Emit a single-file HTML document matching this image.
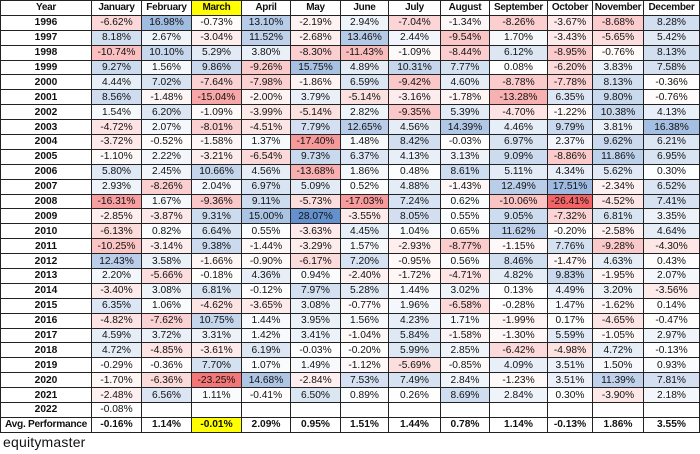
<!DOCTYPE html>
<html><head><meta charset="utf-8">
<style>
body{margin:0;background:#fff;width:700px;height:454px;overflow:hidden;font-family:"Liberation Sans",Arial,sans-serif;}
table{position:absolute;left:0;top:0;border-collapse:collapse;table-layout:fixed;width:699px;}
td{border:1px solid #222;height:13.9px;padding:0;text-align:center;font-size:10.2px;line-height:13px;color:#111;white-space:nowrap;overflow:hidden;}
tr.h td{font-weight:bold;font-size:10px;letter-spacing:-0.3px;}
td.y{font-weight:bold;}
tr.avg td{font-weight:bold;}
tr.avg td:first-child{letter-spacing:-0.3px;}
.yel{background:#ffff00 !important;}
#ft{position:absolute;left:3px;top:434px;font-size:14px;color:#111;letter-spacing:0.2px;}
</style></head><body>
<table id="t">
<colgroup><col style="width:91px"><col style="width:50px"><col style="width:50px"><col style="width:50px"><col style="width:49px"><col style="width:50px"><col style="width:48px"><col style="width:52px"><col style="width:49px"><col style="width:58px"><col style="width:45px"><col style="width:51px"><col style="width:56px"></colgroup>
<tr class="h"><td>Year</td><td>January</td><td>February</td><td class="yel">March</td><td>April</td><td>May</td><td>June</td><td>July</td><td>August</td><td>September</td><td>October</td><td>November</td><td>December</td></tr>
<tr><td class="y">1996</td><td>-6.62%</td><td>16.98%</td><td>-0.73%</td><td>13.10%</td><td>-2.19%</td><td>2.94%</td><td>-7.04%</td><td>-1.34%</td><td>-8.26%</td><td>-3.67%</td><td>-8.68%</td><td>8.28%</td></tr>
<tr><td class="y">1997</td><td>8.18%</td><td>2.67%</td><td>-3.04%</td><td>11.52%</td><td>-2.68%</td><td>13.46%</td><td>2.44%</td><td>-9.54%</td><td>1.70%</td><td>-3.43%</td><td>-5.65%</td><td>5.42%</td></tr>
<tr><td class="y">1998</td><td>-10.74%</td><td>10.10%</td><td>5.29%</td><td>3.80%</td><td>-8.30%</td><td>-11.43%</td><td>-1.09%</td><td>-8.44%</td><td>6.12%</td><td>-8.95%</td><td>-0.76%</td><td>8.13%</td></tr>
<tr><td class="y">1999</td><td>9.27%</td><td>1.56%</td><td>9.86%</td><td>-9.26%</td><td>15.75%</td><td>4.89%</td><td>10.31%</td><td>7.77%</td><td>0.08%</td><td>-6.20%</td><td>3.83%</td><td>7.58%</td></tr>
<tr><td class="y">2000</td><td>4.44%</td><td>7.02%</td><td>-7.64%</td><td>-7.98%</td><td>-1.86%</td><td>6.59%</td><td>-9.42%</td><td>4.60%</td><td>-8.78%</td><td>-7.78%</td><td>8.13%</td><td>-0.36%</td></tr>
<tr><td class="y">2001</td><td>8.56%</td><td>-1.48%</td><td>-15.04%</td><td>-2.00%</td><td>3.79%</td><td>-5.14%</td><td>-3.16%</td><td>-1.78%</td><td>-13.28%</td><td>6.35%</td><td>9.80%</td><td>-0.76%</td></tr>
<tr><td class="y">2002</td><td>1.54%</td><td>6.20%</td><td>-1.09%</td><td>-3.99%</td><td>-5.14%</td><td>2.82%</td><td>-9.35%</td><td>5.39%</td><td>-4.70%</td><td>-1.22%</td><td>10.38%</td><td>4.13%</td></tr>
<tr><td class="y">2003</td><td>-4.72%</td><td>2.07%</td><td>-8.01%</td><td>-4.51%</td><td>7.79%</td><td>12.65%</td><td>4.56%</td><td>14.39%</td><td>4.46%</td><td>9.79%</td><td>3.81%</td><td>16.38%</td></tr>
<tr><td class="y">2004</td><td>-3.72%</td><td>-0.52%</td><td>-1.58%</td><td>1.37%</td><td>-17.40%</td><td>1.48%</td><td>8.42%</td><td>-0.03%</td><td>6.97%</td><td>2.37%</td><td>9.62%</td><td>6.21%</td></tr>
<tr><td class="y">2005</td><td>-1.10%</td><td>2.22%</td><td>-3.21%</td><td>-6.54%</td><td>9.73%</td><td>6.37%</td><td>4.13%</td><td>3.13%</td><td>9.09%</td><td>-8.86%</td><td>11.86%</td><td>6.95%</td></tr>
<tr><td class="y">2006</td><td>5.80%</td><td>2.45%</td><td>10.66%</td><td>4.56%</td><td>-13.68%</td><td>1.86%</td><td>0.48%</td><td>8.61%</td><td>5.11%</td><td>4.34%</td><td>5.62%</td><td>0.30%</td></tr>
<tr><td class="y">2007</td><td>2.93%</td><td>-8.26%</td><td>2.04%</td><td>6.97%</td><td>5.09%</td><td>0.52%</td><td>4.88%</td><td>-1.43%</td><td>12.49%</td><td>17.51%</td><td>-2.34%</td><td>6.52%</td></tr>
<tr><td class="y">2008</td><td>-16.31%</td><td>1.67%</td><td>-9.36%</td><td>9.11%</td><td>-5.73%</td><td>-17.03%</td><td>7.24%</td><td>0.62%</td><td>-10.06%</td><td>-26.41%</td><td>-4.52%</td><td>7.41%</td></tr>
<tr><td class="y">2009</td><td>-2.85%</td><td>-3.87%</td><td>9.31%</td><td>15.00%</td><td>28.07%</td><td>-3.55%</td><td>8.05%</td><td>0.55%</td><td>9.05%</td><td>-7.32%</td><td>6.81%</td><td>3.35%</td></tr>
<tr><td class="y">2010</td><td>-6.13%</td><td>0.82%</td><td>6.64%</td><td>0.55%</td><td>-3.63%</td><td>4.45%</td><td>1.04%</td><td>0.65%</td><td>11.62%</td><td>-0.20%</td><td>-2.58%</td><td>4.64%</td></tr>
<tr><td class="y">2011</td><td>-10.25%</td><td>-3.14%</td><td>9.38%</td><td>-1.44%</td><td>-3.29%</td><td>1.57%</td><td>-2.93%</td><td>-8.77%</td><td>-1.15%</td><td>7.76%</td><td>-9.28%</td><td>-4.30%</td></tr>
<tr><td class="y">2012</td><td>12.43%</td><td>3.58%</td><td>-1.66%</td><td>-0.90%</td><td>-6.17%</td><td>7.20%</td><td>-0.95%</td><td>0.56%</td><td>8.46%</td><td>-1.47%</td><td>4.63%</td><td>0.43%</td></tr>
<tr><td class="y">2013</td><td>2.20%</td><td>-5.66%</td><td>-0.18%</td><td>4.36%</td><td>0.94%</td><td>-2.40%</td><td>-1.72%</td><td>-4.71%</td><td>4.82%</td><td>9.83%</td><td>-1.95%</td><td>2.07%</td></tr>
<tr><td class="y">2014</td><td>-3.40%</td><td>3.08%</td><td>6.81%</td><td>-0.12%</td><td>7.97%</td><td>5.28%</td><td>1.44%</td><td>3.02%</td><td>0.13%</td><td>4.49%</td><td>3.20%</td><td>-3.56%</td></tr>
<tr><td class="y">2015</td><td>6.35%</td><td>1.06%</td><td>-4.62%</td><td>-3.65%</td><td>3.08%</td><td>-0.77%</td><td>1.96%</td><td>-6.58%</td><td>-0.28%</td><td>1.47%</td><td>-1.62%</td><td>0.14%</td></tr>
<tr><td class="y">2016</td><td>-4.82%</td><td>-7.62%</td><td>10.75%</td><td>1.44%</td><td>3.95%</td><td>1.56%</td><td>4.23%</td><td>1.71%</td><td>-1.99%</td><td>0.17%</td><td>-4.65%</td><td>-0.47%</td></tr>
<tr><td class="y">2017</td><td>4.59%</td><td>3.72%</td><td>3.31%</td><td>1.42%</td><td>3.41%</td><td>-1.04%</td><td>5.84%</td><td>-1.58%</td><td>-1.30%</td><td>5.59%</td><td>-1.05%</td><td>2.97%</td></tr>
<tr><td class="y">2018</td><td>4.72%</td><td>-4.85%</td><td>-3.61%</td><td>6.19%</td><td>-0.03%</td><td>-0.20%</td><td>5.99%</td><td>2.85%</td><td>-6.42%</td><td>-4.98%</td><td>4.72%</td><td>-0.13%</td></tr>
<tr><td class="y">2019</td><td>-0.29%</td><td>-0.36%</td><td>7.70%</td><td>1.07%</td><td>1.49%</td><td>-1.12%</td><td>-5.69%</td><td>-0.85%</td><td>4.09%</td><td>3.51%</td><td>1.50%</td><td>0.93%</td></tr>
<tr><td class="y">2020</td><td>-1.70%</td><td>-6.36%</td><td>-23.25%</td><td>14.68%</td><td>-2.84%</td><td>7.53%</td><td>7.49%</td><td>2.84%</td><td>-1.23%</td><td>3.51%</td><td>11.39%</td><td>7.81%</td></tr>
<tr><td class="y">2021</td><td>-2.48%</td><td>6.56%</td><td>1.11%</td><td>-0.41%</td><td>6.50%</td><td>0.89%</td><td>0.26%</td><td>8.69%</td><td>2.84%</td><td>0.30%</td><td>-3.90%</td><td>2.18%</td></tr>
<tr><td class="y">2022</td><td>-0.08%</td><td></td><td></td><td></td><td></td><td></td><td></td><td></td><td></td><td></td><td></td><td></td></tr>
<tr class="avg"><td>Avg. Performance</td><td>-0.16%</td><td>1.14%</td><td class="yel">-0.01%</td><td>2.09%</td><td>0.95%</td><td>1.51%</td><td>1.44%</td><td>0.78%</td><td>1.14%</td><td>-0.13%</td><td>1.86%</td><td>3.55%</td></tr>
</table>
<div id="ft">equitymaster</div>
<script>
var rows=document.querySelectorAll('#t tr');
for(var i=1;i<rows.length-1;i++){var c=rows[i].cells;for(var j=1;j<c.length;j++){var t=c[j].textContent;if(!t)continue;var v=parseFloat(t);var r,g,b;
if(v>=0){var f=Math.min(v/28.07,1);r=255+(100-255)*f;g=255+(145-255)*f;b=255+(205-255)*f;}
else{var f=Math.min(-v/26.41,1);r=255+(242-255)*f;g=255+(100-255)*f;b=255+(102-255)*f;}
c[j].style.background='rgb('+Math.round(r)+','+Math.round(g)+','+Math.round(b)+')';}}
</script>
</body></html>
